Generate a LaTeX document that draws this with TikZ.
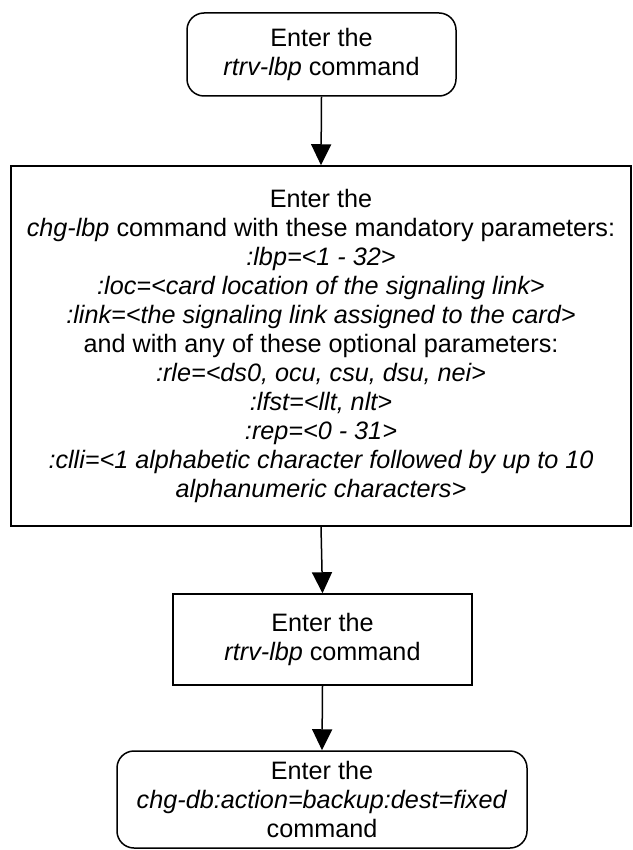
\documentclass[tikz,border=0pt]{standalone}
\usepackage{fontspec}
\setmainfont{Liberation Sans}
\usetikzlibrary{arrows.meta}
\begin{document}
\begin{tikzpicture}[x=1pt,y=-1pt,
  every node/.style={font=\fontsize{25.2}{29}\selectfont, align=center, inner sep=0pt, line width=1.5pt, draw=black},
  roundbox/.style={rounded corners=17pt},
  sqbox/.style={},
  conn/.style={line width=1.5pt, -{Triangle[length=21pt,width=20pt]}}]
\useasboundingbox (0,0) rectangle (632,850);
\node[roundbox, minimum width=269pt, minimum height=83pt] (b1) at (321.5,54.5) {Enter the\\\textit{rtrv-lbp} command};
\node[sqbox, minimum width=620pt, minimum height=360pt] (b2) at (321,346) {Enter the\\
\textit{chg-lbp} command with these mandatory parameters:\\
\textit{:lbp=<1 - 32>}\\
\textit{:loc=<card location of the signaling link>}\\
\textit{:link=<the signaling link assigned to the card>}\\
and with any of these optional parameters:\\
\textit{:rle=<ds0, ocu, csu, dsu, nei>}\\
\textit{:lfst=<llt, nlt>}\\
\textit{:rep=<0 - 31>}\\
\textit{:clli=<1 alphabetic character followed by up to 10}\\
\textit{alphanumeric characters>}};
\node[sqbox, minimum width=299pt, minimum height=91pt] (b3) at (322.5,639.5) {Enter the\\\textit{rtrv-lbp} command};
\node[roundbox, minimum width=410pt, minimum height=97pt] (b4) at (322,799.5) {Enter the\\\textit{chg-db:action=backup:dest=fixed}\\command};
\draw[conn] (b1.south) -- (b2.north);
\draw[conn] (b2.south) -- (b3.north);
\draw[conn] (b3.south) -- (b4.north);
\end{tikzpicture}
\end{document}
